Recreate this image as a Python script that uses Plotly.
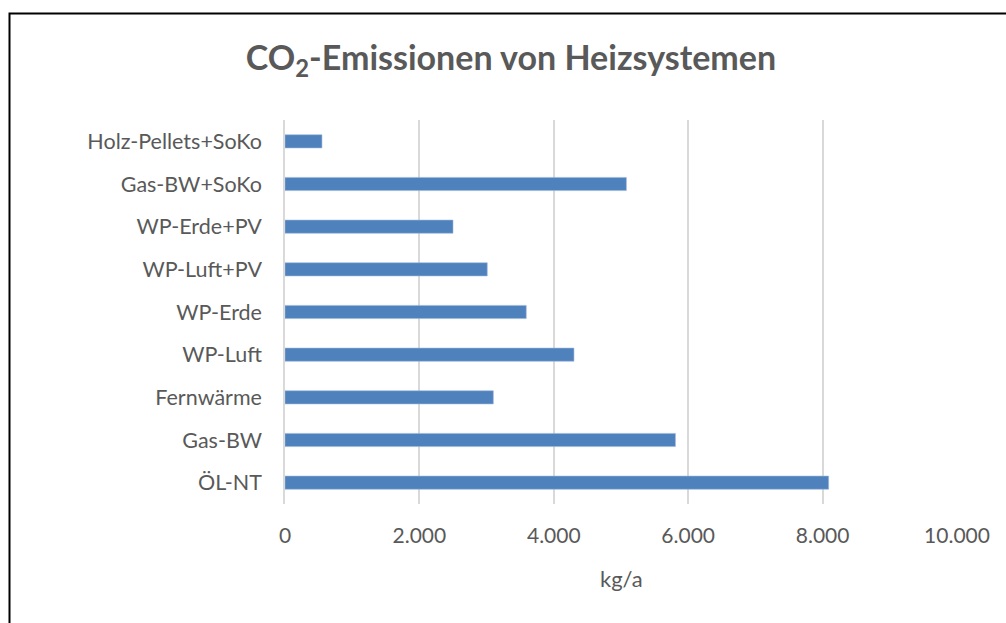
import plotly.graph_objects as go

# Heating systems, listed bottom to top as drawn on the category axis
systeme = [
    "ÖL-NT",
    "Gas-BW",
    "Fernwärme",
    "WP-Luft",
    "WP-Erde",
    "WP-Luft+PV",
    "WP-Erde+PV",
    "Gas-BW+SoKo",
    "Holz-Pellets+SoKo",
]
# Annual CO2 emissions in kg/a
emissionen = [8090, 5810, 3100, 4300, 3590, 3010, 2500, 5080, 550]

x_ticks = [0, 2000, 4000, 6000, 8000, 10000]

TEXT = "#595959"
GRID = "#D9D9D9"
BAR = "#4F81BD"
FONT = "Lato, Carlito, Calibri, sans-serif"

# plot area geometry in pixels
W, H = 1006, 623
L, R, T, B = 285, 49, 120, 119
pw, ph = W - L - R, H - T - B

fig = go.Figure(
    go.Bar(
        x=emissionen,
        y=systeme,
        orientation="h",
        marker=dict(color=BAR, line=dict(color="#9DB7DA", width=0.6)),
        width=0.31,
        hoverinfo="x+y",
    )
)

fig.update_layout(
    width=W,
    height=H,
    margin=dict(l=L, r=R, t=T, b=B),
    paper_bgcolor="white",
    plot_bgcolor="white",
    separators=",.",
    showlegend=False,
    font=dict(family=FONT, color=TEXT, size=21),
    title=dict(
        text="<b>CO<sub>2</sub>-Emissionen von Heizsystemen</b>",
        font=dict(family=FONT, size=34, color=TEXT),
        x=511 / W,
        xref="container",
        xanchor="center",
        y=1 - 58 / H,
        yref="container",
        yanchor="middle",
    ),
    xaxis=dict(
        range=[0, 10000],
        tickvals=x_ticks,
        tickformat=",d",
        showgrid=True,
        gridcolor=GRID,
        gridwidth=1.5,
        zeroline=False,
        showline=False,
        ticks="",
        ticklabelstandoff=17,
        tickfont=dict(size=21, color=TEXT),
        fixedrange=True,
    ),
    yaxis=dict(
        type="category",
        showgrid=False,
        showline=True,
        linecolor=GRID,
        linewidth=1.5,
        ticks="",
        ticklabelstandoff=17,
        tickfont=dict(size=21.5, color=TEXT),
        fixedrange=True,
    ),
    annotations=[
        dict(
            text="kg/a",
            xref="paper",
            yref="paper",
            x=0.5,
            y=(H - B - 578) / ph,
            xanchor="center",
            yanchor="middle",
            showarrow=False,
            font=dict(family=FONT, size=22, color=TEXT),
        )
    ],
    shapes=[
        # chart frame (left and top edges visible)
        dict(
            type="rect",
            xref="paper",
            yref="paper",
            x0=(9.5 - L) / pw,
            x1=(W + 20 - L) / pw,
            y0=(H - B - (H + 20)) / ph,
            y1=(H - B - 13.5) / ph,
            line=dict(color="black", width=2),
            fillcolor="rgba(0,0,0,0)",
            layer="below",
        )
    ],
)

fig.write_html("out.html")
